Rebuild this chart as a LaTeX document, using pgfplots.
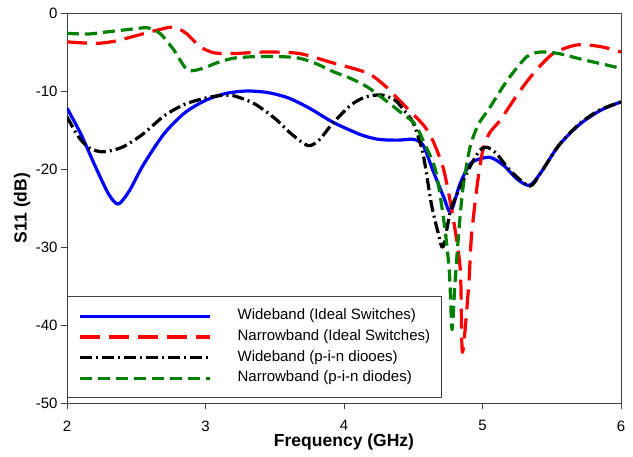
\documentclass[border=0pt]{standalone}
\usepackage{pgfplots}
\pgfplotsset{compat=1.18}
\usepackage{fontspec}
\setmainfont{Liberation Sans}
\definecolor{cblue}{RGB}{0,0,255}
\definecolor{cred}{RGB}{255,0,0}
\definecolor{cgreen}{RGB}{0,128,0}
\begin{document}
\begin{tikzpicture}
\begin{axis}[
  at={(0,0)}, anchor=south west,
  width=554pt, height=390pt, scale only axis,
  xmin=2, xmax=6, ymin=-50, ymax=0,
  xtick={2,3,4,5,6}, xticklabels={2,3,4,5,6},
  ytick={-50,-40,-30,-20,-10,0}, yticklabels={-50,-40,-30,-20,-10,0},
  tick align=outside, major tick length=6pt,
  xtick pos=bottom, ytick pos=left,
  axis line style={black!75, line width=0.8pt},
  tick style={black!75, line width=0.8pt},
  ticklabel style={font=\fontsize{15}{15}\selectfont},
  xticklabel style={yshift=-8pt},
  xlabel={\bfseries Frequency (GHz)},
  ylabel={\bfseries S11 (dB)},
  every axis x label/.style={at={(axis description cs:0.5,-0.1)}, anchor=center, font=\fontsize{17.5}{18}\selectfont},
  every axis y label/.style={at={(axis description cs:-0.081,0.5)}, anchor=center, rotate=90, font=\fontsize{17.5}{18}\selectfont},
  legend cell align=left,
  legend image code/.code={\draw[#1] (-1pt,0pt) -- (129pt,0pt); \path (155pt,0pt);},
  legend style={at={(rel axis cs:0,0)}, anchor=south west, yshift=5pt,
    draw=black!75, line width=0.8pt, fill=white,
    font=\fontsize{15}{15}\selectfont,
    inner xsep=11pt, inner ysep=12pt, row sep=5.6pt,
    nodes={inner sep=0pt, text height=11pt, text depth=4pt}},
  line join=round,
]
\addplot[cblue, line width=3.2pt, smooth, tension=0.45] coordinates {
(2.00,-12.2) (2.10,-15.5) (2.20,-19.5) (2.30,-23.2) (2.37,-24.5) (2.45,-22.8)
(2.55,-19.5) (2.70,-15.5) (2.85,-12.8) (3.00,-11.2) (3.15,-10.3) (3.30,-10.0)
(3.45,-10.2) (3.60,-10.9) (3.75,-12.2) (3.92,-14.0) (4.12,-15.6) (4.25,-16.2)
(4.39,-16.3) (4.50,-16.2) (4.57,-16.9) (4.64,-20.1) (4.72,-23.6) (4.77,-25.5)
(4.84,-21.8) (4.92,-19.2) (5.05,-18.5) (5.15,-19.5) (5.25,-21.3) (5.34,-22.1)
(5.42,-20.5) (5.55,-17.0) (5.70,-14.3) (5.85,-12.5) (6.00,-11.4)
};
\addlegendentry{Wideband (Ideal Switches)}
\addplot[cred, line width=3.2pt, dash pattern=on 20pt off 9pt, smooth, tension=0.45] coordinates {
(2.00,-3.7) (2.21,-3.9) (2.35,-3.6) (2.48,-3.0) (2.65,-2.2) (2.77,-1.8)
(2.86,-2.6) (2.96,-4.3) (3.06,-5.1) (3.20,-5.2) (3.44,-5.0) (3.68,-5.2)
(3.92,-6.4) (4.17,-7.7) (4.30,-9.4) (4.40,-11.2) (4.50,-13.0) (4.58,-14.5)
(4.64,-16.3) (4.72,-20.1) (4.79,-26.5) (4.84,-33.0) (4.855,-43.5) (4.90,-35.0)
(4.92,-28.7) (4.96,-22.3) (5.00,-17.8) (5.05,-15.4) (5.13,-13.7) (5.25,-10.5)
(5.37,-7.7) (5.51,-5.2) (5.68,-4.1) (5.85,-4.3) (6.00,-5.0)
};
\addlegendentry{Narrowband (Ideal Switches)}
\addplot[black, line width=3.2pt, dash pattern=on 12pt off 4pt on 2pt off 4pt, smooth, tension=0.45] coordinates {
(2.00,-13.3) (2.08,-15.8) (2.16,-17.3) (2.26,-17.8) (2.40,-17.2) (2.55,-15.5)
(2.70,-13.2) (2.85,-11.7) (3.00,-10.9) (3.10,-10.6) (3.20,-10.6) (3.35,-11.6)
(3.50,-13.5) (3.62,-15.5) (3.74,-17.0) (3.82,-16.3) (3.92,-14.1) (4.05,-11.8)
(4.15,-10.8) (4.27,-10.5) (4.37,-11.2) (4.43,-12.4) (4.50,-14.1) (4.57,-18.0)
(4.63,-24.4) (4.68,-28.2) (4.715,-30.0) (4.77,-25.3) (4.83,-22.7) (4.91,-19.7)
(4.98,-17.6) (5.03,-17.2) (5.10,-18.0) (5.20,-20.2) (5.34,-22.2) (5.42,-20.5)
(5.55,-17.0) (5.70,-14.2) (5.85,-12.4) (6.00,-11.4)
};
\addlegendentry{Wideband (p-i-n diooes)}
\addplot[cgreen, line width=3.2pt, dash pattern=on 12pt off 6pt, smooth, tension=0.45] coordinates {
(2.00,-2.6) (2.15,-2.7) (2.30,-2.4) (2.45,-2.1) (2.58,-1.9) (2.67,-2.6)
(2.77,-4.7) (2.87,-7.3) (2.98,-7.1) (3.08,-6.4) (3.20,-5.8) (3.35,-5.6)
(3.55,-5.6) (3.68,-5.8) (3.80,-6.5) (3.92,-7.5) (4.05,-8.4) (4.17,-9.5)
(4.30,-11.2) (4.40,-12.6) (4.51,-14.2) (4.58,-16.7) (4.66,-20.1) (4.72,-26.5)
(4.76,-33.0) (4.78,-40.6) (4.80,-35.0) (4.83,-27.8) (4.86,-22.3) (4.91,-17.2)
(4.97,-14.3) (5.05,-12.2) (5.18,-8.6) (5.32,-5.6) (5.42,-5.0) (5.55,-5.2)
(5.73,-6.0) (5.88,-6.6) (6.00,-7.1)
};
\addlegendentry{Narrowband (p-i-n diodes)}
\end{axis}
\path (-67pt,-53pt) rectangle (566pt,403pt);
\end{tikzpicture}
\end{document}
